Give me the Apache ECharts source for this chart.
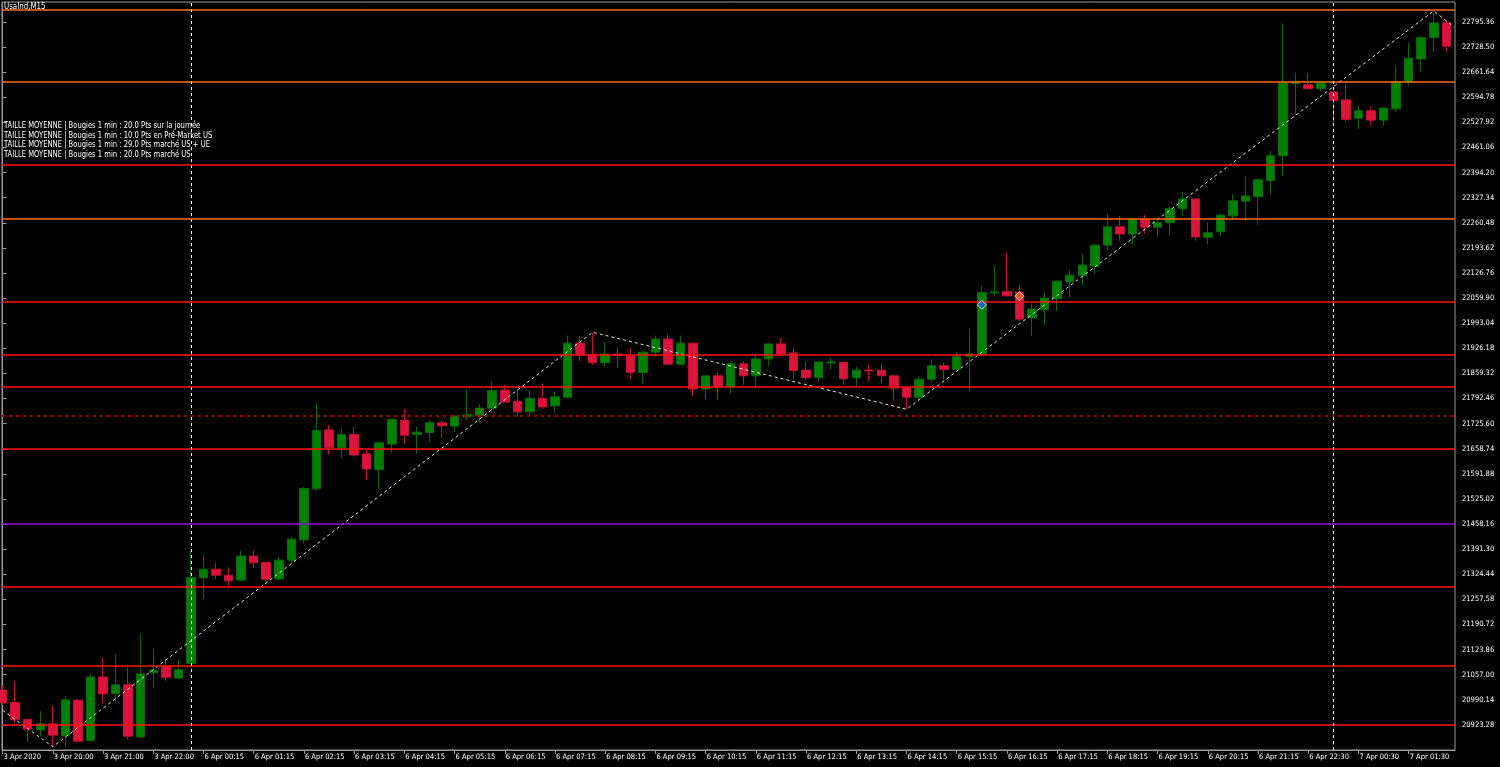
<!DOCTYPE html>
<html>
<head>
<meta charset="utf-8">
<script src="https://cdn.jsdelivr.net/npm/echarts@6/dist/echarts.min.js"></script>
<style>
html,body{margin:0;padding:0;background:#000;}
#chart{width:1500px;height:767px;}
</style>
</head>
<body>
<div id="chart"></div>
<script>
// ---- data (M15 candles, index 0 = 3 Apr 19:00) ----
const openV = [21016,20983,20938,20910,20926,20894,20989,20882,21051,21006,
21030,20891,21062,21080,21048,21087,21315,21338,21322,21309,
21373,21356,21312,21362,21416,21552,21709,21662,21697,21645,
21603,21671,21735,21697,21702,21728,21719,21744,21747,21767,
21815,21785,21757,21793,21773,21796,21940,21910,21888,21911,
21906,21862,21916,21951,21884,21940,21818,21853,21823,21885,
21853,21898,21938,21914,21868,21848,21887,21889,21848,21868,
21868,21853,21822,21796,21844,21880,21870,21904,21911,22074,
22077,22076,22007,22029,22058,22103,22120,22145,22201,22250,
22231,22270,22249,22261,22298,22324,22222,22237,22279,22318,
22330,22373,22439,22631,22628,22618,22609,22588,22539,22559,
22534,22564,22636,22697,22754,22793];
const closeV = [20982,20938,20912,20926,20896,20990,20880,21051,21006,21030,
20893,21059,21069,21050,21070,21316,21338,21322,21307,21373,
21355,21311,21362,21418,21553,21707,21662,21697,21642,21605,
21675,21737,21695,21703,21728,21720,21746,21749,21767,21814,
21783,21757,21793,21770,21797,21940,21910,21888,21911,21907,
21862,21916,21951,21884,21940,21818,21853,21823,21885,21853,
21898,21938,21911,21867,21848,21890,21890,21845,21868,21866,
21853,21820,21796,21844,21880,21870,21904,21911,22075,22077,
22066,22004,22031,22060,22105,22121,22148,22201,22250,22231,
22270,22249,22261,22298,22324,22223,22234,22281,22319,22332,
22375,22439,22633,22636,22618,22633,22586,22536,22559,22534,
22566,22636,22699,22754,22793,22731];
const highV = [21027,21040,20939,20960,20974,21000,20992,21058,21102,21111,
21076,21165,21126,21099,21096,21389,21376,21354,21343,21387,
21387,21358,21370,21425,21557,21781,21722,21713,21718,21655,
21678,21738,21765,21718,21735,21735,21747,21818,21778,21838,
21829,21815,21815,21833,21810,21960,21960,21969,21943,21929,
21926,21920,21960,21964,21960,21942,21855,21862,21888,21892,
21910,21940,21954,21926,21892,21892,21902,21890,21877,21882,
21885,21855,21825,21851,21897,21888,21917,21980,22093,22144,
22181,22095,22046,22073,22108,22135,22177,22204,22284,22279,
22271,22281,22271,22303,22342,22325,22263,22286,22337,22385,
22379,22452,22792,22660,22660,22633,22610,22628,22572,22568,
22568,22678,22740,22758,22825,22801];
const lowV = [20976,20928,20877,20892,20865,20865,20877,20880,20981,20984,
20885,20889,21022,21041,21046,21085,21259,21311,21294,21306,
21343,21296,21309,21354,21407,21547,21642,21635,21638,21576,
21553,21647,21671,21645,21676,21687,21704,21735,21728,21753,
21782,21744,21746,21764,21757,21794,21893,21882,21877,21873,
21844,21833,21904,21882,21882,21799,21791,21789,21806,21829,
21824,21880,21907,21844,21842,21837,21870,21829,21824,21839,
21833,21786,21764,21786,21836,21842,21869,21811,21910,22064,
22065,21999,21959,21988,22026,22062,22095,22124,22186,22213,
22203,22231,22224,22226,22281,22213,22204,22226,22268,22266,
22255,22335,22385,22548,22616,22612,22521,22530,22510,22521,
22518,22556,22625,22665,22716,22716];

// x tick labels, one every 4 candles
const xTickLabels = ['3 Apr 2020','3 Apr 20:00','3 Apr 21:00','3 Apr 22:00','6 Apr 00:15','6 Apr 01:15',
'6 Apr 02:15','6 Apr 03:15','6 Apr 04:15','6 Apr 05:15','6 Apr 06:15','6 Apr 07:15','6 Apr 08:15',
'6 Apr 09:15','6 Apr 10:15','6 Apr 11:15','6 Apr 12:15','6 Apr 13:15','6 Apr 14:15','6 Apr 15:15',
'6 Apr 16:15','6 Apr 17:15','6 Apr 18:15','6 Apr 19:15','6 Apr 20:15','6 Apr 21:15','6 Apr 22:30',
'7 Apr 00:30','7 Apr 01:30'];
const xTickStep = 4;

// zigzag indicator points [candle index, price]
const zigzagIdx = [0, 4, 47, 72, 114, 115.6];
const zigzagVal = [20962, 20865, 21969, 21764, 22825, 22782];

// horizontal levels
const levelVals   = [22829, 22637, 22414, 22271, 22049, 21910, 21823, 21746, 21658, 21458, 21291, 21081, 20923];
const levelKinds  = ['orange','orange','red','orange','red','red','red','dotted','red','purple','red','red','red'];

// day separators (candle index)
const daySeparators = [15, 106];

// trade markers
const buyMark  = [78, 22042];
const sellMark = [81, 22065];

// y axis ticks
const yTickMin = 20856.42, yTickStep = 66.86, yMax = 22848.6;

const annotations = [
  'TAILLE MOYENNE | Bougies 1 min : 20.0 Pts sur la journée',
  'TAILLE MOYENNE | Bougies 1 min : 10.0 Pts en Pré-Market US',
  'TAILLE MOYENNE | Bougies 1 min : 29.0 Pts marché US + UE',
  'TAILLE MOYENNE | Bougies 1 min : 20.0 Pts marché US'
];

// ---- build ----
const FONT = '"DejaVu Sans Condensed", "Liberation Sans", Arial, sans-serif';
const candles = openV.map((o, i) => [i, o, closeV[i], lowV[i], highV[i]]);
const tickIdx = xTickLabels.map((_, k) => k * xTickStep);
const levelStyle = {
  orange: {color: '#ff6a10', width: 1.5, type: 'solid'},
  red:    {color: '#ff1010', width: 1.5, type: 'solid'},
  purple: {color: '#8c10d8', width: 1.5, type: 'solid'},
  dotted: {color: '#a00000', width: 2, type: [3, 4]}
};

const chart = echarts.init(document.getElementById('chart'), null, {renderer: 'canvas'});
chart.setOption({
  backgroundColor: '#000',
  animation: false,
  grid: {left: 2, right: 45, top: 2, bottom: 17, show: true, borderColor: '#9a9a9a', borderWidth: 1, backgroundColor: '#000'},
  xAxis: {
    type: 'value', min: -0.048, max: 115.69,
    splitLine: {show: false},
    axisLine: {show: true, onZero: false, lineStyle: {color: '#9a9a9a'}},
    axisTick: {show: true, customValues: tickIdx, length: 4, lineStyle: {color: '#9a9a9a'}},
    axisLabel: {
      customValues: tickIdx, color: '#ffffff', fontSize: 7.5, fontFamily: FONT,
      align: 'left', margin: 3, padding: [0, 0, 0, 1],
      formatter: v => xTickLabels[Math.round(v / xTickStep)]
    }
  },
  yAxis: {
    type: 'value', position: 'right', min: yTickMin, max: yMax, interval: yTickStep,
    splitLine: {show: false},
    axisLine: {show: true, lineStyle: {color: '#9a9a9a'}},
    axisTick: {show: true, length: 4, lineStyle: {color: '#9a9a9a'}},
    axisLabel: {color: '#ffffff', fontSize: 7.5, fontFamily: FONT, margin: 7,
      showMinLabel: false, showMaxLabel: false, formatter: v => v.toFixed(2)}
  },
  series: [
    {
      type: 'candlestick', data: candles, encode: {x: 0, y: [1, 2, 3, 4]},
      barWidth: 9, z: 2, silent: true,
      itemStyle: {color: '#008000', color0: '#dc143c', borderColor: '#0a6a0a', borderColor0: '#c41036', borderWidth: 1}
    },
    {
      type: 'line', data: [], z: 3, silent: true,
      markLine: {
        silent: true, symbol: ['none', 'none'], label: {show: false}, animation: false,
        data: levelVals.map((v, i) => ({yAxis: v, lineStyle: levelStyle[levelKinds[i]]}))
          .concat(daySeparators.map(x => ({xAxis: x, lineStyle: {color: '#ffffff', width: 1, type: [3, 3]}})))
      }
    },
    {
      type: 'line', data: zigzagIdx.map((x, i) => [x, zigzagVal[i]]), z: 4, silent: true,
      symbol: 'none', lineStyle: {color: '#e6e6d6', width: 1, type: [3, 3]}
    },
    {
      type: 'scatter', z: 5, silent: true, data: [buyMark], symbol: 'diamond', symbolSize: 9,
      itemStyle: {color: '#1a5fd6', borderColor: '#ffffff', borderWidth: 1}
    },
    {
      type: 'scatter', z: 5, silent: true, data: [sellMark], symbol: 'diamond', symbolSize: 9,
      itemStyle: {color: '#ff5a1a', borderColor: '#ffffff', borderWidth: 1}
    }
  ],
  graphic: [
    {type: 'text', left: 4, top: 2, z: 10, scaleX: 0.87, style: {text: 'UsaInd,M15', fill: '#ffffff', font: '9px ' + FONT}}
  ].concat(annotations.map((t, k) => ({
    type: 'text', left: 4, top: 121.5 + k * 9.4, z: 10, scaleX: 0.84,
    style: {text: t, fill: '#ffffff', font: '9px ' + FONT}
  })))
});
</script>
</body>
</html>
